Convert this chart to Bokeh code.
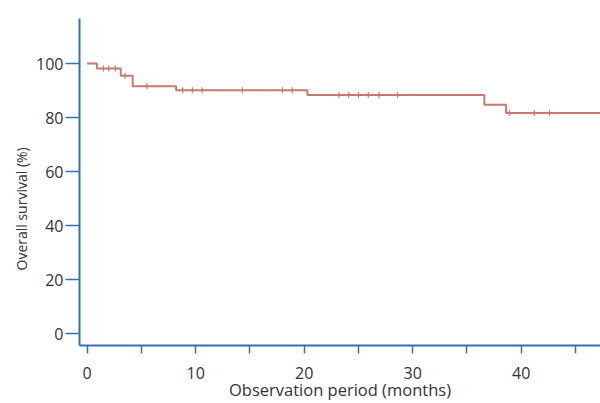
import numpy as np
from bokeh.plotting import figure
from bokeh.models import FixedTicker, Range1d, Title
from bokeh.embed import file_html
from bokeh.resources import INLINE

# Kaplan-Meier data
event_times = [0.9, 3.1, 4.2, 8.2, 20.3, 36.6, 38.6]
survival_levels = [98.2, 95.5, 91.6, 90.1, 88.4, 84.8, 81.7]
censor_times = [1.5, 2.0, 2.6, 3.5, 5.5, 8.8, 9.7, 10.6, 14.3, 18.0, 18.9,
                23.2, 24.1, 25.0, 25.9, 26.9, 28.6, 38.9, 41.2, 42.6]
end_time = 47.5
x_ticks = [0, 5, 10, 15, 20, 25, 30, 35, 40, 45]
x_labels = {0: "0", 10: "10", 20: "20", 30: "30", 40: "40"}
y_ticks = [0, 20, 40, 60, 80, 100]

AXIS = "#3570b6"
CURVE = "#c47a6c"
TXT = "#333333"
FONT = "Open Sans"

p = figure(width=600, height=403, output_backend="svg", toolbar_location=None,
           x_range=Range1d(-0.7, 47.3), y_range=Range1d(-4.4, 116.7),
           min_border_left=79, min_border_right=0, min_border_top=18,
           min_border_bottom=56)
p.outline_line_color = None
p.xgrid.visible = False
p.ygrid.visible = False
p.background_fill_color = "white"

sx = [0.0] + event_times + [end_time]
sy = [100.0] + survival_levels + [survival_levels[-1]]
p.step(sx, sy, mode="after", line_color=CURVE, line_width=2)

def level_at(t):
    lv = 100.0
    for et, s in zip(event_times, survival_levels):
        if t >= et:
            lv = s
    return lv

cy = [level_at(t) for t in censor_times]
p.scatter(censor_times, cy, marker="dash", angle=np.pi / 2, size=6,
          line_color=CURVE, line_width=1.2)

for ax in (p.xaxis[0], p.yaxis[0]):
    ax.axis_line_color = AXIS
    ax.axis_line_width = 2
    ax.major_tick_line_color = AXIS
    ax.major_tick_line_width = 1.5
    ax.minor_tick_line_color = None
    ax.major_label_text_font = FONT
    ax.major_label_text_font_size = "16px"
    ax.major_label_text_color = TXT
    ax.axis_label_text_font = FONT
    ax.axis_label_text_font_style = "normal"
    ax.axis_label_text_color = TXT

p.xaxis.ticker = FixedTicker(ticks=x_ticks)
p.xaxis.major_label_overrides = {t: x_labels.get(t, "") for t in x_ticks}
p.xaxis.major_tick_in = 0
p.xaxis.major_tick_out = 8
p.xaxis.major_label_standoff = 13
p.xaxis.axis_label = "Observation period (months)"
p.xaxis.axis_label_text_font_size = "16.5px"
p.xaxis.axis_label_standoff = -4

p.yaxis.ticker = FixedTicker(ticks=y_ticks)
p.yaxis.major_tick_in = 0
p.yaxis.major_tick_out = 14
p.yaxis.major_label_standoff = 2

ytitle = Title(text="Overall survival (%)", align="left", offset=75,
               text_font=FONT, text_font_size="14px",
               text_font_style="normal", text_color=TXT, standoff=5)
p.add_layout(ytitle, "left")

open("out.html", "w").write(file_html(p, INLINE))
